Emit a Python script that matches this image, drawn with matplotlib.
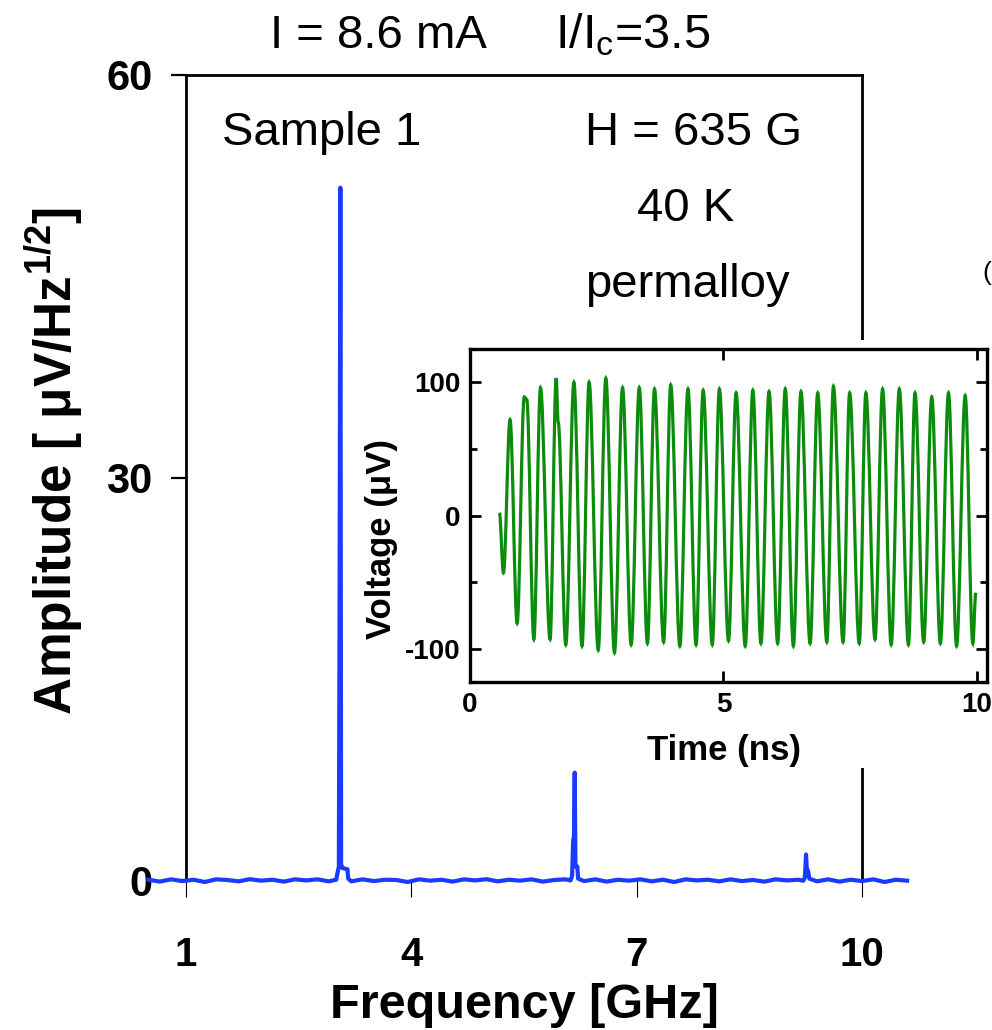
import matplotlib
matplotlib.use("Agg")
import numpy as np
import matplotlib.pyplot as plt
from matplotlib.patches import Rectangle, PathPatch
from matplotlib.path import Path
from matplotlib.ticker import FixedLocator

plt.rcParams['font.family'] = ['Liberation Sans', 'DejaVu Sans']
plt.rcParams['mathtext.default'] = 'regular'
plt.rcParams['axes.unicode_minus'] = False

# spectrum: noisy baseline plus the fundamental and two harmonics
base_freq = [0.50, 0.65, 0.80, 0.95, 1.10, 1.25, 1.40, 1.55, 1.70, 1.85,
             2.00, 2.15, 2.30, 2.45, 2.60, 2.75, 2.90, 3.00,
             3.20, 3.35, 3.50, 3.65, 3.80, 3.95, 4.10, 4.25, 4.40, 4.55,
             4.70, 4.85, 5.00, 5.15, 5.30, 5.45, 5.60, 5.75, 5.90, 6.05, 6.12,
             6.30, 6.45, 6.60, 6.75, 6.90, 7.05, 7.20, 7.35, 7.50, 7.65,
             7.80, 7.95, 8.10, 8.25, 8.40, 8.55, 8.70, 8.85, 9.00, 9.15, 9.22,
             9.40, 9.55, 9.70, 9.85, 10.00, 10.15, 10.30, 10.45, 10.60]
base_amp = [0.02, -0.12, 0.05, -0.08, 0.02, -0.15, 0.05, 0.00, -0.10, 0.06,
            -0.05, 0.02, -0.12, 0.05, -0.03, 0.05, -0.10, 0.02,
            -0.10, 0.05, -0.08, 0.02, 0.00, -0.15, 0.05, -0.05, 0.02, -0.12,
            0.05, -0.03, 0.06, -0.10, 0.02, -0.05, 0.05, -0.12, 0.00, 0.05, -0.03,
            -0.08, 0.05, -0.12, 0.02, -0.05, 0.05, -0.10, 0.02, -0.15, 0.05,
            -0.03, 0.02, -0.10, 0.05, -0.08, 0.00, -0.12, 0.05, -0.03, 0.02, -0.05,
            -0.10, 0.05, -0.12, 0.02, -0.08, 0.05, -0.15, 0.02, -0.05]

peak_freq = [3.020, 3.035, 3.045, 3.055, 3.065, 3.080, 3.150, 3.160,
             6.140, 6.155, 6.165, 6.175, 6.185, 6.210, 6.220,
             9.240, 9.255, 9.265, 9.280, 9.300]
peak_amp = [0.6, 1.0, 20.9, 51.6, 1.2, 0.9, 0.8, 0.1,
            0.3, 3.0, 3.2, 8.0, 1.0, 1.0, 0.1,
            0.2, 1.9, 0.8, 0.7, 0.1]

# time trace: successive extrema of the voltage oscillation
time_ns = [0.58, 0.66, 0.79, 0.93, 1.07, 1.12, 1.26, 1.39, 1.58, 1.70, 1.74, 1.89,
           2.05, 2.21, 2.35, 2.53, 2.68, 2.85, 3.01, 3.18, 3.34, 3.50, 3.64,
           3.82, 3.96, 4.14, 4.30, 4.46, 4.60, 4.78, 4.92, 5.10, 5.25, 5.43,
           5.58, 5.74, 5.90, 6.07, 6.22, 6.38, 6.53, 6.71, 6.86, 7.04, 7.17,
           7.36, 7.49, 7.68, 7.81, 7.99, 8.14, 8.31, 8.47, 8.65, 8.78, 8.95,
           9.11, 9.28, 9.44, 9.60, 9.77, 9.92, 9.98]
voltage_uV = [2, -43, 72, -81, 89, 87, -93, 96, -93, 103, 70, -97,
              100, -98, 100, -101, 103, -103, 96, -97, 96, -96, 95,
              -95, 98, -98, 95, -97, 94, -97, 95, -94, 92, -98,
              94, -96, 93, -96, 95, -98, 93, -96, 92, -95, 97,
              -95, 92, -96, 92, -93, 95, -97, 95, -97, 92, -95,
              89, -96, 92, -98, 90, -96, -58]

freq = np.array(base_freq + peak_freq)
amp = np.array(base_amp + peak_amp)
order = np.argsort(freq)
freq, amp = freq[order], amp[order]


def smooth_trace_path(t, v, k=0.36):
    """Cubic Bezier path through the extrema with flat tangents at each one."""
    verts = [(t[0], v[0])]
    codes = [Path.MOVETO]
    for i in range(1, len(t)):
        dt = t[i] - t[i - 1]
        verts += [(t[i - 1] + k * dt, v[i - 1]), (t[i] - k * dt, v[i]), (t[i], v[i])]
        codes += [Path.CURVE4] * 3
    return Path(verts, codes)


fig = plt.figure(figsize=(9.92, 10.30), dpi=100)

ax = fig.add_axes([186 / 992, 1 - 880 / 1030, 676 / 992, 805 / 1030])
ax.plot(freq, amp, color='#1a3bff', lw=3.0, clip_on=False, zorder=3)
ax.set_xlim(1, 10)
ax.set_ylim(0, 60)
ax.spines['bottom'].set_visible(False)
for side in ('left', 'top', 'right'):
    ax.spines[side].set_linewidth(2.0)
ax.set_xticks([1, 4, 7, 10])
ax.set_yticks([0, 30, 60])
ax.tick_params(axis='x', direction='out', length=12, width=0.8, pad=28,
               labelsize=29)
ax.tick_params(axis='y', direction='out', length=11, width=1.6, pad=13,
               labelsize=30)
for lab in ax.get_xticklabels() + ax.get_yticklabels():
    lab.set_fontweight('bold')
ax.set_xlabel('Frequency [GHz]', fontsize=35, fontweight='bold')
ax.xaxis.set_label_coords(0.5, -0.128)
ax.xaxis.label.set_va('top')
ax.set_ylabel('Amplitude [ μV/Hz$^{1/2}$]', fontsize=37, fontweight='bold')
ax.yaxis.set_label_coords(-0.15, 0.52)

ann = dict(transform=fig.transFigure, fontsize=34, ha='left', va='baseline')
ax.text(222 / 992, 1 - 145 / 1030, 'Sample 1', **ann)
ax.text(585 / 992, 1 - 145 / 1030, 'H = 635 G', **ann)
ax.text(637 / 992, 1 - 221 / 1030, '40 K', **ann)
ax.text(585 / 992, 1 - 297 / 1030, 'permalloy', **ann)

fig.text(270 / 992, 1 - 48 / 1030, 'I = 8.6 mA', fontsize=34, va='baseline')
fig.text(555 / 992, 1 - 48 / 1030, 'I/I$_c$=3.5', fontsize=35, va='baseline')
fig.text(982 / 992, 1 - 280 / 1030, '(', fontsize=19, va='baseline')

# white panel under the inset, hides the right spine behind it
fig.add_artist(Rectangle((365 / 992, 1 - 768 / 1030), 1, 428 / 1030,
                         transform=fig.transFigure, facecolor='white',
                         edgecolor='none', zorder=1))

ins = fig.add_axes([470 / 992, 1 - 682 / 1030, 517 / 992, 333 / 1030])
ins.set_zorder(2)
ins.add_patch(PathPatch(smooth_trace_path(time_ns, voltage_uV), fill=False,
                        edgecolor='#0c8c0c', lw=2.3))
ins.set_xlim(0, 10.2)
ins.set_ylim(-125, 125)
ins.set_xticks([0, 5, 10])
ins.set_yticks([-100, 0, 100])
ins.yaxis.set_minor_locator(FixedLocator([-50, 50]))
for sp in ins.spines.values():
    sp.set_linewidth(2.4)
ins.tick_params(which='both', direction='in', top=True, right=True,
                width=2.0, labelsize=20)
ins.tick_params(which='major', length=8, pad=7)
ins.tick_params(which='minor', length=5)
for lab in ins.get_xticklabels() + ins.get_yticklabels():
    lab.set_fontweight('bold')
ins.set_xlabel('Time (ns)', fontsize=25, fontweight='bold')
ins.xaxis.set_label_coords(0.491, -0.155)
ins.xaxis.label.set_va('top')
ins.set_ylabel('Voltage (μV)', fontsize=25, fontweight='bold')
ins.yaxis.set_label_coords(-0.14, 0.43)

fig.savefig('out.png', dpi=100)
